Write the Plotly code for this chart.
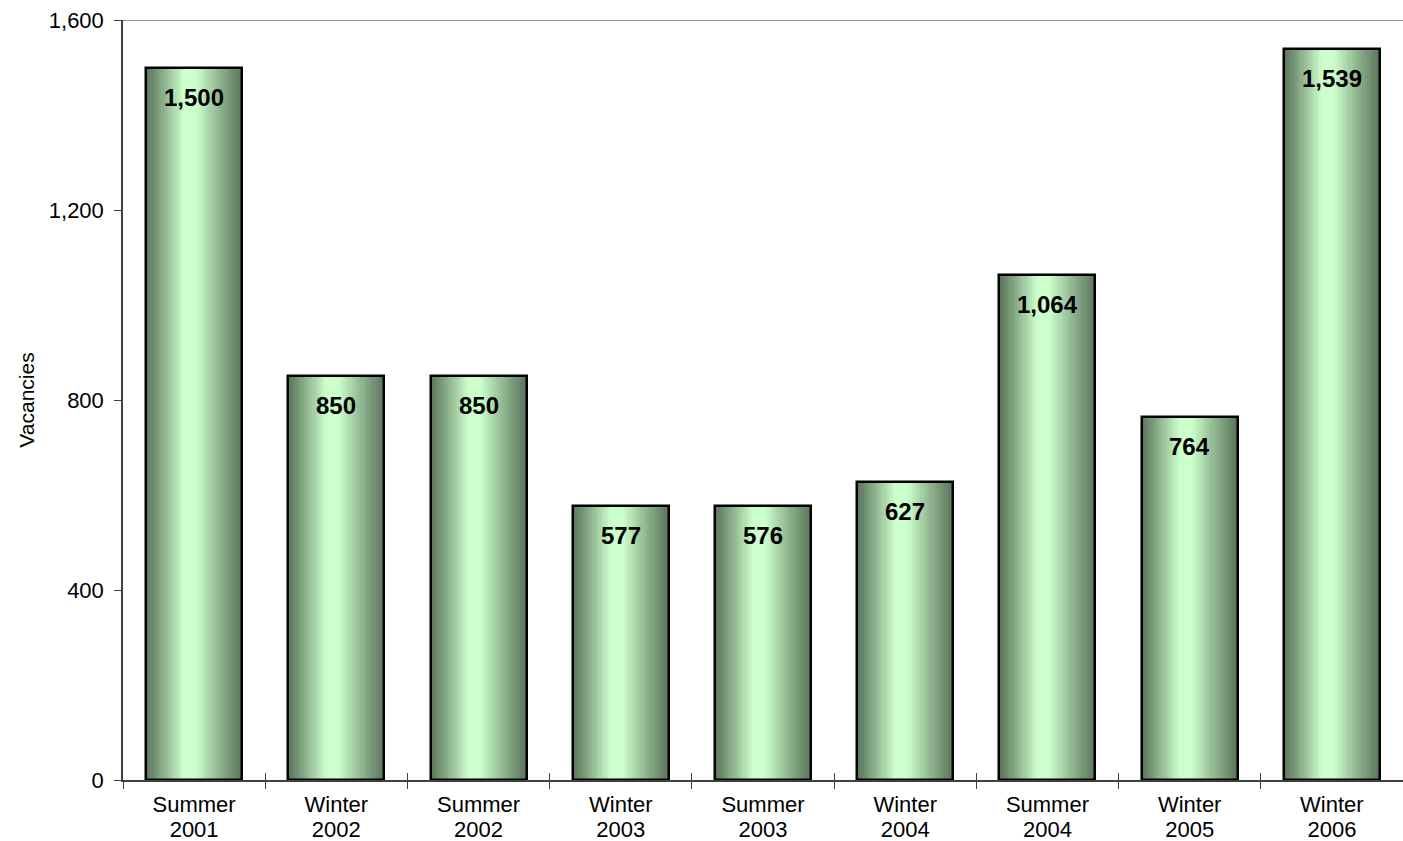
import plotly.graph_objects as go

seasons = ["Summer", "Winter", "Summer", "Winter", "Summer", "Winter", "Summer", "Winter", "Winter"]
years = ["2001", "2002", "2002", "2003", "2003", "2004", "2004", "2005", "2006"]
vacancies = [1500, 850, 850, 577, 576, 627, 1064, 764, 1539]
y_ticks = [0, 400, 800, 1200, 1600]
categories = [f"{s} {y}" for s, y in zip(seasons, years)]

FONT = "Liberation Sans, Arial, sans-serif"
BAR_W = 0.675
K = 44
dark = (92, 118, 92)
light = (204, 255, 204)
peak = 0.45


def stripe_color(t):
    s = t / peak if t < peak else (1 - t) / (1 - peak)
    f = min(1.0, s * 1.15) ** 1.1
    r, g, b = (round(d + (l - d) * f) for d, l in zip(dark, light))
    return f"rgb({r},{g},{b})"


fig = go.Figure()
step = BAR_W / K
for k in range(K):
    off = -BAR_W / 2 + k * step
    w = min(step * 1.5, BAR_W / 2 - off)
    fig.add_trace(go.Bar(
        x=categories, y=vacancies, offset=off, width=w,
        marker=dict(color=stripe_color((k + 0.5) / K), line=dict(width=0)),
        hoverinfo="skip", showlegend=False, xaxis="x", yaxis="y",
    ))

# outline bars (on overlaying axis, drawn on top)
fig.add_trace(go.Bar(
    x=categories, y=vacancies, width=BAR_W,
    marker=dict(color="rgba(0,0,0,0)", line=dict(color="black", width=2.5)),
    showlegend=False, xaxis="x2", yaxis="y",
))

for c, v in zip(categories, vacancies):
    fig.add_annotation(x=c, y=v, xref="x", yref="y", text=f"<b>{v:,}</b>",
                       showarrow=False, yanchor="top", yshift=-14,
                       font=dict(family=FONT, size=24, color="black"))

fig.add_shape(type="line", xref="paper", yref="y", x0=0, x1=1, y0=1600, y1=1600,
              line=dict(color="#9a9a9a", width=2))

fig.update_layout(
    width=1403, height=841,
    margin=dict(l=123, r=0, t=20, b=61),
    paper_bgcolor="white", plot_bgcolor="white",
    barmode="overlay", bargap=0,
    font=dict(family=FONT, color="black"),
    xaxis=dict(
        type="category", tickson="boundaries", ticks="outside", ticklen=7,
        tickcolor="#404040", tickwidth=1, showline=True, linecolor="#404040",
        linewidth=1.5, showgrid=False, tickfont=dict(size=22, family=FONT),
        tickvals=categories, ticktext=seasons, ticklabelstandoff=4,
        range=[-0.5, 8.5], automargin=False,
    ),
    xaxis2=dict(
        type="category", overlaying="x", anchor="y", matches="x", side="bottom",
        tickson="boundaries", ticks="inside", ticklen=7, tickcolor="#404040",
        tickwidth=1, showline=False, showgrid=False,
        tickvals=categories, ticktext=years, tickfont=dict(size=22, family=FONT),
        ticklabelstandoff=34, automargin=False,
    ),
    yaxis=dict(
        range=[0, 1600], tickvals=y_ticks, tickformat=",", ticks="outside",
        ticklen=7, tickcolor="#404040", showline=True, linecolor="#404040",
        linewidth=1.5, showgrid=False, zeroline=False, automargin=False,
        tickfont=dict(size=22, family=FONT), ticklabelstandoff=6,
        title=dict(text="Vacancies", font=dict(size=21, family=FONT), standoff=8),
    ),
)

fig.write_html("out.html", config={"displayModeBar": False},
               post_script="document.body.style.margin='0';document.body.style.overflow='hidden';")
